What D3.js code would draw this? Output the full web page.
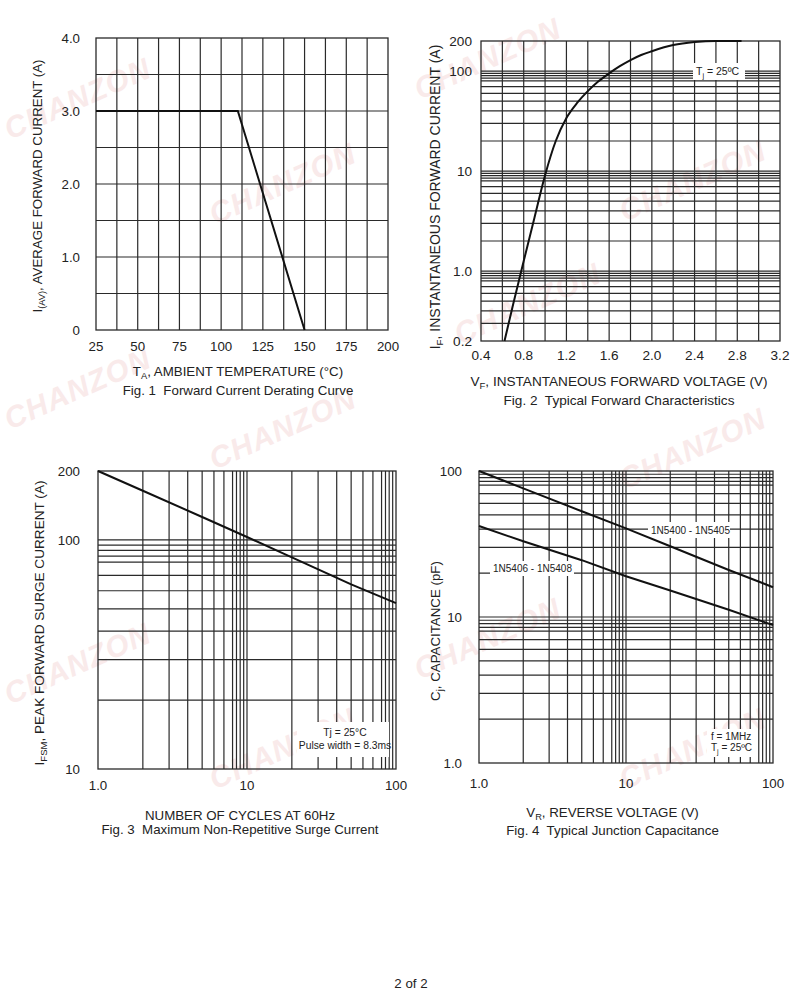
<!DOCTYPE html>
<html>
<head>
<meta charset="utf-8">
<script src="https://cdn.jsdelivr.net/npm/d3@7/dist/d3.min.js"></script>
<style>
  body { margin: 0; background: #fff; }
  svg { display: block; font-family: "Liberation Sans", Arial, Helvetica, sans-serif; }
</style>
</head>
<body>
<script>
// ---- Fig. 1 : derating curve
const derateTemp = [25, 110, 150];
const derateCurrent = [3.0, 3.0, 0];
const fig1XTicks = [25, 50, 75, 100, 125, 150, 175, 200];
const fig1YTicks = [0, 1, 2, 3, 4];
const fig1YLabels = ["0", "1.0", "2.0", "3.0", "4.0"];

// ---- Fig. 2 : forward characteristics
const fwdVoltage = [0.62, 0.7, 0.8, 0.9, 1.0, 1.1, 1.2, 1.3, 1.4, 1.5, 1.6, 1.7, 1.8, 1.9, 2.0, 2.2, 2.4, 2.6, 2.84];
const fwdCurrent = [0.2, 0.46, 1.26, 3.4, 9.1, 20, 34, 48, 63, 79, 95, 112, 129, 145, 158, 182, 195, 200, 200];
const fig2XTicks = [0.4, 0.8, 1.2, 1.6, 2.0, 2.4, 2.8, 3.2];
const fig2XLabels = ["0.4", "0.8", "1.2", "1.6", "2.0", "2.4", "2.8", "3.2"];
const fig2YTicks = [0.2, 1, 10, 100, 200];
const fig2YLabels = ["0.2", "1.0", "10", "100", "200"];

// ---- Fig. 3 : surge current
const surgeCycles = [1, 2, 5, 10, 20, 50, 100];
const surgeCurrent = [200, 164, 126, 103, 84, 64, 53];
const fig3XTicks = [1, 10, 100];
const fig3XLabels = ["1.0", "10", "100"];
const fig3YTicks = [10, 100, 200];
const fig3YLabels = ["10", "100", "200"];

// ---- Fig. 4 : junction capacitance
const capVoltage = [1, 2, 5, 10, 20, 50, 100];
const cap5400 = [100, 76, 53, 40.5, 30.5, 21, 16];
const cap5406 = [42, 33, 24.5, 19, 15.2, 11.2, 8.8];
const fig4XTicks = [1, 10, 100];
const fig4XLabels = ["1.0", "10", "100"];
const fig4YTicks = [1, 10, 100];
const fig4YLabels = ["1.0", "10", "100"];

// log paper grid multipliers
const logGridSteps = [1, 2, 3, 4, 5, 6, 7, 8, 8.5, 9, 9.5];

const watermarks = [[10, 140], [215, 225], [420, 100], [625, 222], [460, 345], [10, 430],
                    [215, 470], [625, 490], [10, 705], [215, 790], [420, 680], [625, 790]];

const W = 800, H = 991;
const FS = 13.3;
const svg = d3.select("body").append("svg").attr("width", W).attr("height", H);

// watermark underneath everything
svg.append("g").selectAll("text").data(watermarks).join("text")
  .attr("transform", d => `translate(${d[0]},${d[1]}) rotate(-24)`)
  .attr("font-size", 30).attr("font-weight", "bold").attr("font-style", "italic")
  .attr("letter-spacing", 1).attr("fill", "#f9eaea")
  .text("CHANZON");

let logGrid = (domain, maxVal) => {
  let out = [];
  let lo = Math.floor(Math.log10(domain[0])), hi = Math.ceil(Math.log10(domain[1]));
  for (let k = lo; k <= hi; k++) {
    logGridSteps.forEach(m => {
      let v = m * Math.pow(10, k);
      if (v > domain[0] * 1.0001 && v < domain[1] * 0.9999 && v <= maxVal) out.push(v);
    });
  }
  return out;
};

let subText = (sel, parts) => {
  // parts: [main, sub, rest]
  sel.append("tspan").text(parts[0]);
  sel.append("tspan").attr("font-size", "0.7em").attr("dy", 3).text(parts[1]);
  sel.append("tspan").attr("dy", -3).text(parts[2]);
};

let note = (g, x, y, size, parts, anchor) => {
  let t = g.append("text").attr("x", x).attr("y", y).attr("font-size", size)
    .attr("fill", "#222").attr("text-anchor", anchor || "start");
  if (Array.isArray(parts)) subText(t, parts); else t.text(parts);
  return t;
};

let panel = (o) => {
  let x = (o.xLog ? d3.scaleLog() : d3.scaleLinear()).domain(o.xDomain).range([o.left, o.right]);
  let y = (o.yLog ? d3.scaleLog() : d3.scaleLinear()).domain(o.yDomain).range([o.bottom, o.top]);
  let g = svg.append("g");
  let fs = o.fontSize || FS;

  g.append("g").selectAll("line").data(o.xGrid).join("line")
    .attr("x1", d => x(d)).attr("x2", d => x(d))
    .attr("y1", o.top).attr("y2", o.bottom)
    .attr("stroke", "#2a2a2a").attr("stroke-width", 1.2);
  g.append("g").selectAll("line").data(o.yGrid).join("line")
    .attr("y1", d => y(d)).attr("y2", d => y(d))
    .attr("x1", o.left).attr("x2", o.right)
    .attr("stroke", "#2a2a2a").attr("stroke-width", 1.2);
  g.append("rect")
    .attr("x", o.left).attr("y", o.top)
    .attr("width", o.right - o.left).attr("height", o.bottom - o.top)
    .attr("fill", "none").attr("stroke", "#2a2a2a").attr("stroke-width", 1.3);

  // white label boxes over the grid
  (o.boxes || []).forEach(b => {
    g.append("rect").attr("x", b[0]).attr("y", b[1]).attr("width", b[2]).attr("height", b[3]).attr("fill", "#fff");
  });

  let line = d3.line().x(d => x(d[0])).y(d => y(d[1])).curve(o.curve || d3.curveLinear);
  o.series.forEach(s => {
    g.append("path").datum(d3.zip(s[0], s[1]))
      .attr("d", line).attr("fill", "none")
      .attr("stroke", "#111").attr("stroke-width", 2);
  });

  g.append("g").selectAll("text").data(o.xTicks).join("text")
    .attr("x", d => x(d)).attr("y", o.xTickY)
    .attr("text-anchor", "middle").attr("font-size", fs).attr("fill", "#222")
    .text((d, i) => o.xLabels ? o.xLabels[i] : d);
  g.append("g").selectAll("text").data(o.yTicks).join("text")
    .attr("x", o.left - o.yTickGap).attr("y", d => y(d)).attr("dy", "0.36em")
    .attr("text-anchor", "end").attr("font-size", fs).attr("fill", "#222")
    .text((d, i) => o.yLabels[i]);

  note(g, o.xTitle[0], o.xTitle[1], fs, o.xTitleParts || o.xTitleText, "middle");
  note(g, o.caption[0], o.caption[1], fs, o.captionText, "middle").attr("xml:space", "preserve");

  let yt = g.append("text")
    .attr("transform", `translate(${o.yTitle[0]},${o.yTitle[1]}) rotate(-90)`)
    .attr("text-anchor", "middle").attr("font-size", o.yTitleSize || fs).attr("fill", "#222");
  subText(yt, o.yTitleParts);

  return { g, x, y };
};

// Fig. 1
panel({
  left: 96, right: 388, top: 38, bottom: 330,
  xDomain: [25, 200], yDomain: [0, 4],
  xGrid: d3.range(37.5, 200, 12.5), yGrid: d3.range(0.5, 4, 0.5),
  series: [[derateTemp, derateCurrent]],
  xTicks: fig1XTicks, xTickY: 350.5,
  yTicks: fig1YTicks, yLabels: fig1YLabels, yTickGap: 16,
  xTitle: [238, 376], xTitleParts: ["T", "A", ", AMBIENT TEMPERATURE (°C)"],
  caption: [238, 394.5], captionText: "Fig. 1  Forward Current Derating Curve",
  yTitle: [42, 186], yTitleParts: ["I", "(AV)", ", AVERAGE FORWARD CURRENT (A)"]
});

// Fig. 2
let p2 = panel({
  left: 481, right: 780, top: 41, bottom: 341, yLog: true,
  xDomain: [0.4, 3.2], yDomain: [0.2, 200],
  xGrid: d3.range(1, 14).map(i => 0.4 + i * 0.2),
  yGrid: logGrid([0.2, 200], 100),
  series: [[fwdVoltage, fwdCurrent]], curve: d3.curveMonotoneX,
  boxes: [[693, 63, 52, 17]],
  xTicks: fig2XTicks, xLabels: fig2XLabels, xTickY: 360,
  yTicks: fig2YTicks, yLabels: fig2YLabels, yTickGap: 9,
  fontSize: 13.6, yTitleSize: 14,
  xTitle: [619, 386], xTitleParts: ["V", "F", ", INSTANTANEOUS FORWARD VOLTAGE (V)"],
  caption: [619, 404.5], captionText: "Fig. 2  Typical Forward Characteristics",
  yTitle: [439.5, 197], yTitleParts: ["I", "F", ", INSTANTANEOUS FORWARD CURRENT (A)"]
});
note(p2.g, 696, 75, 10.5, ["T", "j", " = 25ºC"]);

// Fig. 3
let p3 = panel({
  left: 98, right: 396, top: 471, bottom: 769, xLog: true, yLog: true,
  xDomain: [1, 100], yDomain: [10, 200],
  xGrid: logGrid([1, 100], 100).filter(v => v >= 2),
  yGrid: logGrid([10, 200], 100),
  series: [[surgeCycles, surgeCurrent]],
  boxes: [[297, 722, 92, 35]],
  xTicks: fig3XTicks, xLabels: fig3XLabels, xTickY: 790,
  yTicks: fig3YTicks, yLabels: fig3YLabels, yTickGap: 18,
  yTitleSize: 13.6,
  xTitle: [240, 820], xTitleText: "NUMBER OF CYCLES AT 60Hz",
  caption: [240, 834], captionText: "Fig. 3  Maximum Non-Repetitive Surge Current",
  yTitle: [43.5, 623], yTitleParts: ["I", "FSM", ", PEAK FORWARD SURGE CURRENT (A)"]
});
note(p3.g, 345, 736, 10.3, "Tj = 25°C", "middle");
note(p3.g, 345, 748.5, 10.3, "Pulse width = 8.3ms", "middle");

// Fig. 4
let p4 = panel({
  left: 479, right: 773, top: 471, bottom: 763, xLog: true, yLog: true,
  xDomain: [1, 100], yDomain: [1, 100],
  xGrid: logGrid([1, 100], 100), yGrid: logGrid([1, 100], 100),
  series: [[capVoltage, cap5400], [capVoltage, cap5406]],
  boxes: [[648, 522, 82, 16], [490, 561, 84, 15], [707, 729, 50, 28]],
  xTicks: fig4XTicks, xLabels: fig4XLabels, xTickY: 787.5,
  yTicks: fig4YTicks, yLabels: fig4YLabels, yTickGap: 17,
  xTitle: [612.5, 816.5], xTitleParts: ["V", "R", ", REVERSE VOLTAGE (V)"],
  caption: [612.5, 835], captionText: "Fig. 4  Typical Junction Capacitance",
  yTitle: [439.5, 631], yTitleParts: ["C", "j", ", CAPACITANCE (pF)"]
});
note(p4.g, 651, 534, 10, "1N5400 - 1N5405");
note(p4.g, 493, 572, 10, "1N5406 - 1N5408");
note(p4.g, 711, 740, 10, "f = 1MHz");
note(p4.g, 711, 751, 10, ["T", "j", " = 25ºC"]);

note(svg, 411, 988, FS, "2 of 2", "middle");
</script>
</body>
</html>
